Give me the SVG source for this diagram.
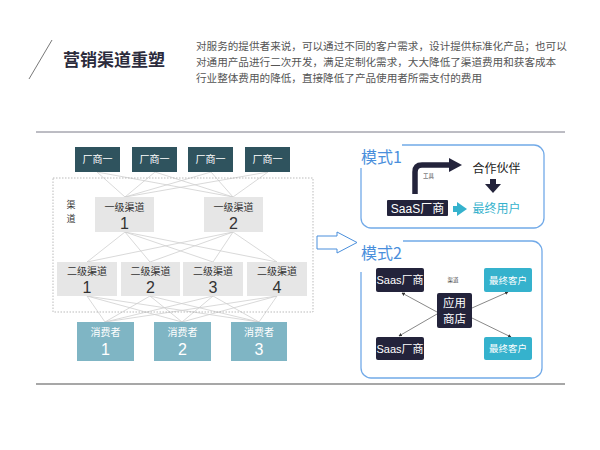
<svg xmlns="http://www.w3.org/2000/svg" width="600" height="450" viewBox="0 0 600 450">
<defs>
<style>
.cjk{font-family:"Noto Sans CJK SC","Liberation Sans",sans-serif}
.num{font-family:"Liberation Sans","Noto Sans CJK SC",sans-serif}
.conn line{stroke:#cfcfcf;stroke-width:0.8}
.fac rect{fill:#2f535e}
.l1 rect,.l2 rect{fill:#e6e6e6}
.con rect{fill:#7fb5c4}
.mode{fill:none;stroke:#72aae8;stroke-width:1.3}
.blue{fill:#4a8fdc}
.navy{fill:#23233b}
.cyan{fill:#35b2cd}
</style>
<marker id="ah" viewBox="0 0 6 6" refX="5" refY="3" markerWidth="5" markerHeight="5" orient="auto"><path d="M0,0 L6,3 L0,6 z" fill="#333"/></marker>
</defs>
<rect width="600" height="450" fill="#fff"/>

<!-- header -->
<g id="header">
<line x1="52" y1="40" x2="29" y2="79" stroke="#555" stroke-width="0.8"/>
<text x="63" y="66" class="cjk" font-size="17" font-weight="bold" fill="#2b2b3c">营销渠道重塑</text>
<g class="cjk" font-size="10.6" fill="#555">
<text x="196" y="50">对服务的提供者来说，可以通过不同的客户需求，设计提供标准化产品；也可以</text>
<text x="196" y="66">对通用产品进行二次开发，满足定制化需求，大大降低了渠道费用和获客成本</text>
<text x="196" y="82">行业整体费用的降低，直接降低了产品使用者所需支付的费用</text>
</g>
<line x1="36" y1="132" x2="565" y2="132" stroke="#7a7a88" stroke-width="1"/>
<line x1="36" y1="384" x2="565" y2="384" stroke="#8a8a8a" stroke-width="1.5"/>
</g>

<!-- left connectors -->
<g id="connectors" class="conn">
<line x1="97" y1="172" x2="125" y2="197"/><line x1="97" y1="172" x2="233" y2="197"/>
<line x1="155" y1="172" x2="125" y2="197"/><line x1="155" y1="172" x2="233" y2="197"/>
<line x1="211" y1="172" x2="125" y2="197"/><line x1="211" y1="172" x2="233" y2="197"/>
<line x1="268" y1="172" x2="125" y2="197"/><line x1="268" y1="172" x2="233" y2="197"/>
<line x1="125" y1="232" x2="87" y2="262"/><line x1="125" y1="232" x2="150" y2="262"/><line x1="125" y1="232" x2="213" y2="262"/><line x1="125" y1="232" x2="277" y2="262"/>
<line x1="233" y1="232" x2="87" y2="262"/><line x1="233" y1="232" x2="150" y2="262"/><line x1="233" y1="232" x2="213" y2="262"/><line x1="233" y1="232" x2="277" y2="262"/>
<line x1="87" y1="296" x2="105" y2="322"/><line x1="87" y1="296" x2="182" y2="322"/><line x1="87" y1="296" x2="259" y2="322"/>
<line x1="150" y1="296" x2="105" y2="322"/><line x1="150" y1="296" x2="182" y2="322"/><line x1="150" y1="296" x2="259" y2="322"/>
<line x1="213" y1="296" x2="105" y2="322"/><line x1="213" y1="296" x2="182" y2="322"/><line x1="213" y1="296" x2="259" y2="322"/>
<line x1="277" y1="296" x2="105" y2="322"/><line x1="277" y1="296" x2="182" y2="322"/><line x1="277" y1="296" x2="259" y2="322"/>
</g>

<rect id="channel-area" x="53" y="178" width="260" height="134" fill="none" stroke="#aaa" stroke-width="0.8" stroke-dasharray="1.5,1.5"/>
<text class="cjk" font-size="9" fill="#333" x="66.5" y="207.5">渠</text>
<text class="cjk" font-size="9" fill="#333" x="66.5" y="221.5">道</text>

<!-- factories -->
<g class="fac cjk" font-size="10" fill="#fff" text-anchor="middle">
<g id="fac1"><rect x="75" y="147" width="45" height="25"/><text x="97.5" y="163">厂商一</text></g>
<g id="fac2"><rect x="132" y="147" width="45" height="25"/><text x="154.5" y="163">厂商一</text></g>
<g id="fac3"><rect x="188" y="147" width="45" height="25"/><text x="210.5" y="163">厂商一</text></g>
<g id="fac4"><rect x="245" y="147" width="45" height="25"/><text x="267.5" y="163">厂商一</text></g>
</g>

<!-- level 1 -->
<g class="l1" fill="#333" text-anchor="middle">
<g id="l1-1"><rect x="95" y="197" width="59" height="35"/><text class="cjk" font-size="10" x="124.5" y="211">一级渠道</text><text class="num" font-size="16" x="124.5" y="229">1</text></g>
<g id="l1-2"><rect x="204" y="197" width="59" height="35"/><text class="cjk" font-size="10" x="233.5" y="211">一级渠道</text><text class="num" font-size="16" x="233.5" y="229">2</text></g>
</g>

<!-- level 2 -->
<g class="l2" fill="#333" text-anchor="middle">
<g id="l2-1"><rect x="57" y="262" width="60" height="34"/><text class="cjk" font-size="10" x="87" y="275">二级渠道</text><text class="num" font-size="16" x="87" y="293">1</text></g>
<g id="l2-2"><rect x="121" y="262" width="59" height="34"/><text class="cjk" font-size="10" x="150.5" y="275">二级渠道</text><text class="num" font-size="16" x="150.5" y="293">2</text></g>
<g id="l2-3"><rect x="183" y="262" width="60" height="34"/><text class="cjk" font-size="10" x="213" y="275">二级渠道</text><text class="num" font-size="16" x="213" y="293">3</text></g>
<g id="l2-4"><rect x="247" y="262" width="60" height="34"/><text class="cjk" font-size="10" x="277" y="275">二级渠道</text><text class="num" font-size="16" x="277" y="293">4</text></g>
</g>

<!-- consumers -->
<g class="con" fill="#fff" text-anchor="middle">
<g id="con1"><rect x="77" y="322" width="57" height="39"/><text class="cjk" font-size="10" x="105.5" y="336">消费者</text><text class="num" font-size="16" x="105.5" y="355">1</text></g>
<g id="con2"><rect x="154" y="322" width="57" height="39"/><text class="cjk" font-size="10" x="182.5" y="336">消费者</text><text class="num" font-size="16" x="182.5" y="355">2</text></g>
<g id="con3"><rect x="231" y="322" width="56" height="39"/><text class="cjk" font-size="10" x="259" y="336">消费者</text><text class="num" font-size="16" x="259" y="355">3</text></g>
</g>

<!-- big hollow arrow -->
<path id="transition-arrow" d="M317,236 H337 V232 L357,242.5 L337,253 V249 H317 Z" fill="#fff" stroke="#4a8fdc" stroke-width="1"/>

<!-- mode 1 -->
<g id="mode1">
<path class="mode" d="M402,145 H534 A10,10 0 0 1 544,155 V218 A10,10 0 0 1 534,228 H371 A10,10 0 0 1 361,218 V168"/>
<text class="cjk" x="361" y="163" font-size="16" fill="#4a8fdc">模式1</text>
<path d="M415,194 V172 Q415,165 422,165 H452" fill="none" stroke="#23233b" stroke-width="5.5"/>
<polygon class="navy" points="449,158 462,165 449,172"/>
<text class="cjk" x="423" y="178" font-size="5.5" fill="#444">工具</text>
<text class="cjk" x="496.5" y="173" font-size="12" fill="#222" text-anchor="middle">合作伙伴</text>
<rect class="navy" x="490" y="179" width="6" height="6"/>
<polygon class="navy" points="485,184 501,184 493,193"/>
<rect class="navy" x="387" y="200" width="61" height="16" rx="1"/>
<text class="num" x="417.5" y="212.5" font-size="12" fill="#fff" text-anchor="middle">SaaS厂商</text>
<rect class="cyan" x="453" y="206" width="7" height="6"/>
<polygon class="cyan" points="457,202 467,209 457,216"/>
<text class="cjk" x="496.5" y="213" font-size="12" fill="#35b2cd" text-anchor="middle">最终用户</text>
</g>

<!-- mode 2 -->
<g id="mode2">
<path class="mode" d="M403,241 H532 A10,10 0 0 1 542,251 V368 A10,10 0 0 1 532,378 H371 A10,10 0 0 1 361,368 V272"/>
<text class="cjk" x="361" y="259" font-size="16" fill="#4a8fdc">模式2</text>
<text class="cjk" x="453" y="282" font-size="5.5" fill="#444" text-anchor="middle">渠道</text>
</g>
<g id="mode2-connectors" stroke="#555" stroke-width="0.7" marker-end="url(#ah)">
<line x1="437" y1="312" x2="402" y2="293"/>
<line x1="437" y1="314" x2="399" y2="336"/>
<line x1="472" y1="308" x2="508" y2="292"/>
<line x1="472" y1="318" x2="511" y2="337"/>
</g>
<g id="saas-top"><rect class="navy" x="376" y="268" width="48" height="24" rx="2"/><text class="num" x="400" y="284" font-size="11" fill="#fff" text-anchor="middle">Saas厂商</text></g>
<g id="saas-bottom"><rect class="navy" x="376" y="337" width="48" height="23" rx="2"/><text class="num" x="400" y="352.5" font-size="11" fill="#fff" text-anchor="middle">Saas厂商</text></g>
<g id="appstore"><rect class="navy" x="437" y="293" width="35" height="35" rx="2"/><text class="cjk" x="454.5" y="307" font-size="11.5" fill="#fff" text-anchor="middle">应用</text><text class="cjk" x="454.5" y="323" font-size="11.5" fill="#fff" text-anchor="middle">商店</text></g>
<g id="user-top"><rect class="cyan" x="484" y="268" width="48" height="24" rx="2"/><text class="cjk" x="508" y="283.5" font-size="9.5" fill="#fff" text-anchor="middle">最终客户</text></g>
<g id="user-bottom"><rect class="cyan" x="484" y="337" width="48" height="23" rx="2"/><text class="cjk" x="508" y="352" font-size="9.5" fill="#fff" text-anchor="middle">最终客户</text></g>
</svg>
